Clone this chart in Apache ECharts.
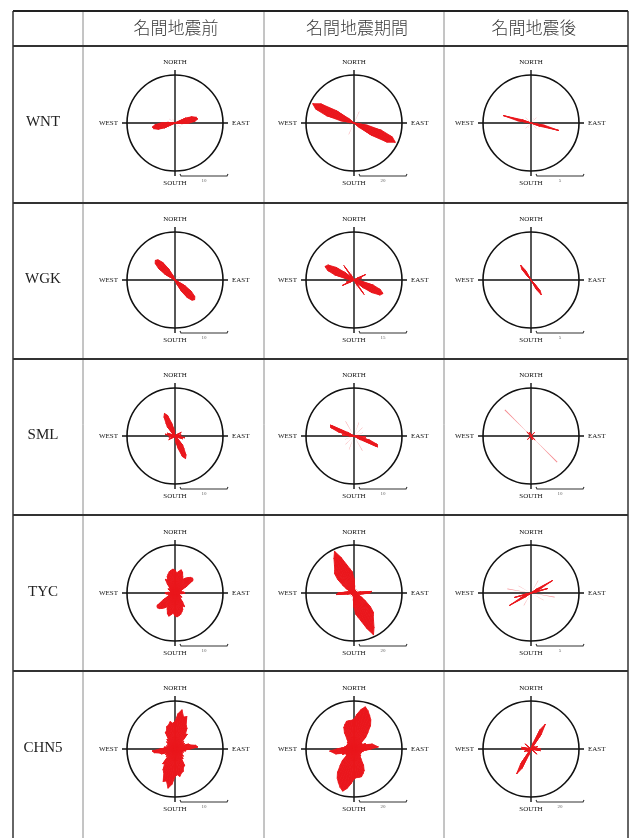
<!DOCTYPE html>
<html>
<head>
<meta charset="utf-8">
<script src="https://cdn.jsdelivr.net/npm/echarts@6/dist/echarts.min.js"></script>
<style>
html, body { margin: 0; padding: 0; background: #fff; }
#chart { width: 633px; height: 838px; }
</style>
</head>
<body>
<div id="chart"></div>
<script>
// Column headings (periods) and row headings (stations)
const periods = ['名間地震前', '名間地震期間', '名間地震後'];
const stations = ['WNT', 'WGK', 'SML', 'TYC', 'CHN5'];

// Azimuth bin centres, degrees clockwise from north (5° bins, half circle; roses are axial)
const azimuthBins = [0, 5, 10, 15, 20, 25, 30, 35, 40, 45, 50, 55, 60, 65, 70, 75, 80, 85,
  90, 95, 100, 105, 110, 115, 120, 125, 130, 135, 140, 145, 150, 155, 160, 165, 170, 175];

// Compass labels
const compass = ['NORTH', 'EAST', 'SOUTH', 'WEST'];

// Scale-bar values (outer circle) per station: before / during / after
const scaleWNT = [10, 20, 5];
const scaleWGK = [10, 15, 5];
const scaleSML = [10, 10, 10];
const scaleTYC = [10, 20, 5];
const scaleCHN5 = [10, 20, 20];

// Rose counts per azimuth bin (main petals)
const wntBefore = [0,0,0,0,0, 0,0,0,0,0, 0,0,0,2.5,3.8, 4.6,4.8,4.2,3.0,1.5, 0,0,0,0,0, 0,0,0,0,0, 0,0,0,0,0, 0];
const wntDuring = [0,0,0,0,0, 0,0,0,0,0, 0,0,0,0,0, 0,0,0,0,0, 6,12,17,19,16, 9,3,0,0,0, 0,0,0,0,0, 0];
const wntAfter  = [0,0,0,0,0, 0,0,0,0,0, 0,0,0,0,0, 0,0,0,0,0, 1.5,3.0,1.0,0,0, 0,0,0,0,0, 0,0,0,0,0, 0];

const wgkBefore = [0,0,0,0,0, 0,0,0,0,0, 0,0,0,0,0, 0,0,0,0,0, 0,0,0,0,2.5, 4.2,5.4,5.8,5.5,4.5, 2.8,1.2,0,0,0, 0];
const wgkDuring = [0,0,0,0,0, 0,0,0,0,0, 0,0,1.5,4.0,1.5, 2.5,1.0,0,0,0, 3.0,6.3,8.8,10,9.4, 6.9,3.8,1.5,1.5,5.5, 2.0,0,0,0,0, 0];
const wgkAfter  = [0,0,0,0,0, 0,0,0,0,0, 0,0,0,0,0, 0,0,0,0,0, 0,0,0,0,0, 0,0,0.6,1.5,1.9, 1.2,0,0,0,0, 0];

const smlBefore = [0,0,0,0,0, 0,0,0,0,0, 0,0.8,1.5,0.8,0, 0.6,1.3,0.6,0,1.0, 2.1,1.0,1.7,0.8,0, 0,0,1.0,2.5,3.3, 4.6,5.2,4.6,2.9,1.7, 0];
const smlDuring = [0,0,0,0,0, 0,0,0,0,0, 0,0,0,0,0, 0,0,0,1.0,2.5, 1.5,3.5,5.2,5.4,1.5, 0,0,0,0,0, 0,0,0,0,0, 0];
const smlAfter  = [0,0,0,0,0, 0,0,0,0.5,1.0, 0.5,0,0,0,0, 0,0,0,0,0, 0,0,0,0,0, 0,0.6,1.2,0.6,0, 0,0,0.8,0,0, 0];

const tycBefore = [4.8,4.2,4.6,5.0,4.6, 3.8,3.3,3.8,4.2,4.6, 4.8,4.6,2.9,1.7,1.2, 1.0,1.5,1.9,2.1,1.5,
  1.0,1.0,1.0,1.2,1.7, 1.5,1.2,1.7,2.5,3.5, 3.1,3.8,4.2,4.6,4.8, 5.0];
const tycDuring = [6.0,3.0,1.5,0,0, 0,1.5,0,0,0, 0,0,1.5,0,0, 0,3.0,7.5,6.7,4.0,
  3.0,2.0,2.0,2.5,4.0, 6.0,9.0,11.5,12.5,14.2, 16.7,19.2,15.8,12.5,10.4, 9.0];
const tycAfter  = [0,0,0,0,0, 0,0,0,0,0, 0,0.8,2.6,1.2,0.6, 1.8,0.6,0,0,0, 0,0,0,0,0, 0,0,0,0,0, 0,0,0,0,0, 0];

const chnBefore = [5.8,7.4,8.3,6.9,7.2, 5.5,5.0,3.8,4.0,2.0, 2.4,1.8,2.3,2.0,3.0, 3.3,4.4,4.8,3.2,2.2,
  2.3,1.6,1.9,1.5,1.8, 1.7,2.3,2.0,2.6,2.4, 4.0,4.2,5.0,5.2,5.8, 5.4];
const chnDuring = [12.5,14.6,16.7,18.2,17.0, 15.4,14.0,12.0,9.0,7.0, 3.9,4.1,3.8,5.3,5.4, 7.9,8.8,10.2,7.2,5.3,
  3.9,4.0,3.1,3.5,3.0, 3.5,3.1,4.0,3.9,5.2, 8.0,10.0,11.0,12.0,12.0, 12.0];
const chnAfter  = [0,0,0,1.0,3.0, 9.0,12.0,7.5,1.5,0, 0,0.8,2.0,0.8,3.0, 1.0,0,1.0,4.0,1.5, 4.0,1.0,0,0,0, 1.0,3.3,1.0,0,0, 0,0,0,0,0, 0];

// Thin, lightly drawn needles (small counts)
const wntBeforeThin = [0,0,0,0,0, 0,0,0,0,0, 0,2.0,0,0,0, 0,0,0,0,0, 0,0,0,0,0, 1.5,0,0,0,0, 1.0,0,0,0,0, 0];
const wntDuringThin = [0,0,0,0,0, 5.2,0,0,0,0, 0,0,0,0,2.0, 0,0,0,0,0, 0,0,0,0,0, 0,0,0,0,0, 0,0,0,0,0, 0];
const wntAfterThin  = [0,0,0,0,0, 0,0.6,0,0,0.8, 0,0,0,0,0, 0,0,0,0,0, 0,0,0,0,0, 0,0,0.8,0,0, 0,0,0,0,0, 0];
const wgkBeforeThin = [0,0,0,0,0.8, 0,0,0,0,0, 0,0,1.2,0,0, 0,1.0,0,0,0, 1.3,0,0,0,0, 0,0,0,0,0, 0,0,0,0,0, 0];
const wgkDuringThin = [0,0,0,0,0, 0,0,0,0,0, 0,0,0,0,0, 0,0,2.5,0,0, 0,0,0,0,0, 0,0,0,0,0, 0,0,3.0,0,0, 0];
const wgkAfterThin  = [0,0,0,0,0, 0,0,0,0,0, 0,0,0,0,0, 0,0,0,0,0, 0,0,0,0,0, 0,0,0,0,0, 0,0,0,0,0, 0];
const smlBeforeThin = [0,0,0,0,1.0, 0,0,0,0,0, 0,0,0,0,0, 0,0,0,0,0, 0,0,0,0,1.2, 0,0,0,0,0, 0,0,0,0,0, 0];
const smlDuringThin = [0,0,0,0,3.0, 0,0,0,0,2.5, 0,0,0,0,2.0, 0,0,0,0,0, 0,0,0,0,0, 0,0,0,0,0, 3.5,0,0,0,0, 0];
const smlAfterThin  = [0,0,0,0,0, 0,0,0,0,0, 0,0,0,0,0, 0,0,0,0,0, 0,0,0,0,0, 0,0,7.7,0,0, 0,0,0,0,0, 0];
const tycBeforeThin = [0,0,0,0,0, 0,0,0,0,0, 0,0,0,0,0, 0,0,0,0,0, 0,0,0,0,0, 0,0,0,0,0, 0,0,0,0,0, 0];
const tycDuringThin = [0,0,0,0,0, 0,0,0,0,0, 0,0,0,0,0, 0,0,0,0,0, 0,0,0,0,0, 0,0,0,0,0, 0,0,0,0,0, 0];
const tycAfterThin  = [0,0,0,0,0, 0,1.5,0,0,0, 0,0,0,0,0, 0,0,0,0,0, 2.5,0,0,0,1.5, 0,0,0,0,0, 0,0,0,0,0, 0];
const chnBeforeThin = [0,0,0,0,0, 0,0,0,0,0, 0,0,0,0,0, 0,0,0,0,0, 0,0,0,0,0, 0,0,0,0,0, 0,0,0,0,0, 0];
const chnDuringThin = [0,0,0,0,0, 0,0,0,0,0, 0,0,0,0,0, 0,0,0,0,0, 0,0,0,0,0, 0,0,0,0,0, 0,0,0,0,0, 0];
const chnAfterThin  = [0,0,0,0,0, 0,0,0,0,2.0, 0,0,0,0,0, 0,0,0,0,0, 0,0,0,0,0, 0,0,0,0,0, 0,0,0,0,0, 0];

const roseMain = [
  [wntBefore, wntDuring, wntAfter],
  [wgkBefore, wgkDuring, wgkAfter],
  [smlBefore, smlDuring, smlAfter],
  [tycBefore, tycDuring, tycAfter],
  [chnBefore, chnDuring, chnAfter]
];
const roseThin = [
  [wntBeforeThin, wntDuringThin, wntAfterThin],
  [wgkBeforeThin, wgkDuringThin, wgkAfterThin],
  [smlBeforeThin, smlDuringThin, smlAfterThin],
  [tycBeforeThin, tycDuringThin, tycAfterThin],
  [chnBeforeThin, chnDuringThin, chnAfterThin]
];
const roseScale = [scaleWNT, scaleWGK, scaleSML, scaleTYC, scaleCHN5];

// ---- layout ----
const tableLeft = 13, tableRight = 628, tableTop = 11, tableBottom = 838;
const colLines = [83, 264, 444];
const rowLines = [46, 203, 359, 515, 671];
const headerCenters = [176, 357, 534];
const colCenters = [175, 354, 531];
const rowCenters = [123, 280, 436, 593, 749];
const R = 48;          // outer circle radius (px)
const RED = '#ea161c';
const BIN = 5;         // bin spacing, degrees

// Axial roses: a bin at θ is repeated at θ + 180.
// Each item: [count, azimuth, next count, next azimuth] → one slice of the rose polygon.
const fullAz = azimuthBins.concat(azimuthBins.map(a => a + 180));
const roseSlices = half => {
  const vals = half.concat(half);
  return fullAz.map((a, i) => [vals[i], a, vals[(i + 1) % vals.length], a + BIN]);
};
const thinNeedles = half => {
  const vals = half.concat(half);
  return fullAz.map((a, i) => [vals[i], a]);
};

// Rose outline: triangles centre → tip(i) → tip(i+1)
const roseSlice = (params, api) => {
  const v0 = api.value(0), a0 = api.value(1), v1 = api.value(2), a1 = api.value(3);
  if (!(v0 > 0) && !(v1 > 0)) return null;
  return {
    type: 'polygon',
    shape: { points: [api.coord([0, a0]), api.coord([v0 > 0 ? v0 : 0, a0]), api.coord([v1 > 0 ? v1 : 0, a1])] },
    style: { fill: RED, stroke: RED, lineWidth: 0.9, lineJoin: 'round' }
  };
};
// Narrow light needle for small counts
const needle = (params, api) => {
  const v = api.value(0), az = api.value(1);
  if (!(v > 0)) return null;
  return {
    type: 'polygon',
    shape: { points: [api.coord([0, az]), api.coord([v, az - 0.8]), api.coord([v, az + 0.8])] },
    style: { fill: 'rgba(236,40,50,0.55)' }
  };
};

const polar = [], angleAxis = [], radiusAxis = [], series = [], graphic = [];

stations.forEach((st, r) => {
  periods.forEach((p, c) => {
    const center = [colCenters[c], rowCenters[r]];
    const scale = roseScale[r][c];
    const base = polar.length;

    // compass cross with direction labels
    polar.push({ center, radius: R + 5 });
    angleAxis.push({
      polarIndex: base, type: 'category', data: compass, boundaryGap: false,
      startAngle: 90, clockwise: true,
      axisLine: { show: false }, axisTick: { show: false },
      splitLine: { show: true, lineStyle: { color: '#111', width: 1.4 } },
      axisLabel: { fontFamily: 'Liberation Serif', fontSize: 7, color: '#111', margin: 4 }
    });
    radiusAxis.push({ polarIndex: base, type: 'value', min: 0, max: 1, show: false });

    // rose: outer circle = scale value
    polar.push({ center, radius: R });
    angleAxis.push({
      polarIndex: base + 1, type: 'value', min: 0, max: 360, startAngle: 90, clockwise: true,
      axisLine: { show: true, lineStyle: { color: '#111', width: 1.6 } },
      axisTick: { show: false }, axisLabel: { show: false }, splitLine: { show: false }
    });
    radiusAxis.push({ polarIndex: base + 1, type: 'value', min: 0, max: scale, show: false });

    series.push({
      type: 'custom', coordinateSystem: 'polar', polarIndex: base + 1,
      dimensions: ['radius', 'angle'], encode: { radius: 0, angle: 1 },
      data: thinNeedles(roseThin[r][c]), renderItem: needle, silent: true, z: 3
    });
    series.push({
      type: 'custom', coordinateSystem: 'polar', polarIndex: base + 1,
      dimensions: ['radius', 'angle', 'nextRadius', 'nextAngle'], encode: { radius: 0, angle: 1 },
      data: roseSlices(roseMain[r][c]), renderItem: roseSlice, silent: true, z: 4
    });

    // scale bar: its length equals the circle radius
    const bx = center[0] + 5, by = center[1] + 53;
    graphic.push({
      type: 'polyline', silent: true,
      shape: { points: [[bx, by - 2], [bx + 1, by], [bx + R - 1, by], [bx + R, by - 2]] },
      style: { stroke: '#333', lineWidth: 1.1, fill: null }
    });
    graphic.push({
      type: 'text', silent: true, x: bx + R / 2, y: by + 5,
      style: { text: String(scale), fontSize: 5, fontFamily: 'Liberation Serif', fill: '#666', align: 'center', verticalAlign: 'middle' }
    });
  });
});

// table rules
const hLine = (y, w, color) => graphic.push({
  type: 'line', silent: true, shape: { x1: tableLeft, y1: y, x2: tableRight, y2: y },
  style: { stroke: color, lineWidth: w }
});
const vLine = (x, w, color) => graphic.push({
  type: 'line', silent: true, shape: { x1: x, y1: tableTop, x2: x, y2: tableBottom },
  style: { stroke: color, lineWidth: w }
});
colLines.forEach(x => vLine(x, 1, '#8a8a8a'));
vLine(tableLeft, 1.5, '#333');
vLine(tableRight, 1.5, '#333');
hLine(tableTop, 2, '#222');
rowLines.forEach(y => hLine(y, 2, '#333'));

// header texts
periods.forEach((p, c) => graphic.push({
  type: 'text', silent: true, x: headerCenters[c], y: 28,
  style: { text: p, fontSize: 17, fontFamily: 'Noto Sans CJK TC', fontWeight: 300, fill: '#3a3a3a', align: 'center', verticalAlign: 'middle' }
}));
// station names
stations.forEach((s, r) => graphic.push({
  type: 'text', silent: true, x: 43, y: rowCenters[r] - 1,
  style: { text: s, fontSize: 15, fontFamily: 'Liberation Serif', fill: '#222', align: 'center', verticalAlign: 'middle' }
}));

const chart = echarts.init(document.getElementById('chart'), null, { renderer: 'canvas' });
chart.setOption({
  animation: false,
  backgroundColor: '#fff',
  polar, angleAxis, radiusAxis, series, graphic
});
</script>
</body>
</html>
